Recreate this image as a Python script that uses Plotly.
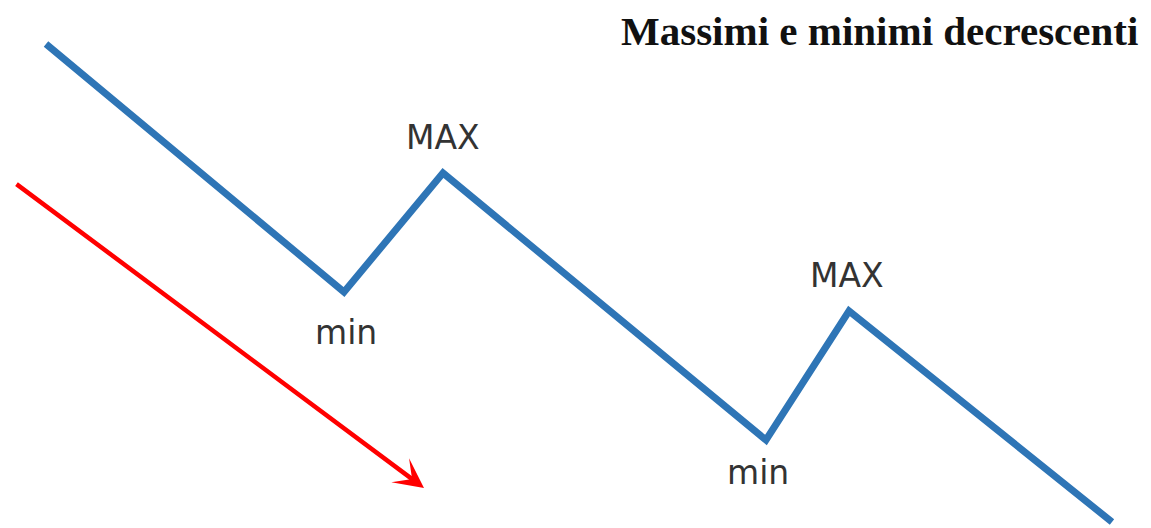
import plotly.graph_objects as go

# Price path (time, price) - decreasing highs and lows
time = [46, 344, 443, 766, 849, 1112]
price = [484, 236, 355, 88, 217, 6]

# Labels of the swing points
label_text = ["min", "MAX", "min", "MAX"]
label_time = [346, 443, 758, 847]
label_price = [196, 391, 56, 253]

# Trend arrow (start -> end)
arrow_start = (15, 345)
arrow_end = (424, 40)

title_text = "Massimi e minimi decrescenti"

fig = go.Figure()
fig.add_trace(go.Scatter(
    x=time, y=price, mode="lines",
    line=dict(color="#2e75b6", width=7),
    hoverinfo="skip", showlegend=False,
))

for t, x, y in zip(label_text, label_time, label_price):
    fig.add_annotation(x=x, y=y, text=t, showarrow=False,
                       font=dict(family="DejaVu Sans", size=33, color="#333333"),
                       xanchor="center", yanchor="middle")

fig.add_annotation(x=arrow_end[0], y=arrow_end[1], ax=arrow_start[0], ay=arrow_start[1],
                   xref="x", yref="y", axref="x", ayref="y",
                   text="", showarrow=True, arrowhead=3, arrowsize=1.1,
                   arrowwidth=4.5, arrowcolor="#ff0000", standoff=0)

fig.add_annotation(x=1140, y=497, text="<b>" + title_text + "</b>", showarrow=False,
                   xanchor="right", yanchor="middle",
                   font=dict(family="Liberation Serif", size=41, color="#111111"))

# page has an 8px body margin; map axis units to page pixels
fig.update_layout(
    width=1143, height=520,
    margin=dict(l=0, r=0, t=0, b=0),
    paper_bgcolor="white", plot_bgcolor="white",
    xaxis=dict(range=[8, 1151], visible=False, fixedrange=True),
    yaxis=dict(range=[0, 520], visible=False, fixedrange=True),
)

fig.write_html("out.html")
